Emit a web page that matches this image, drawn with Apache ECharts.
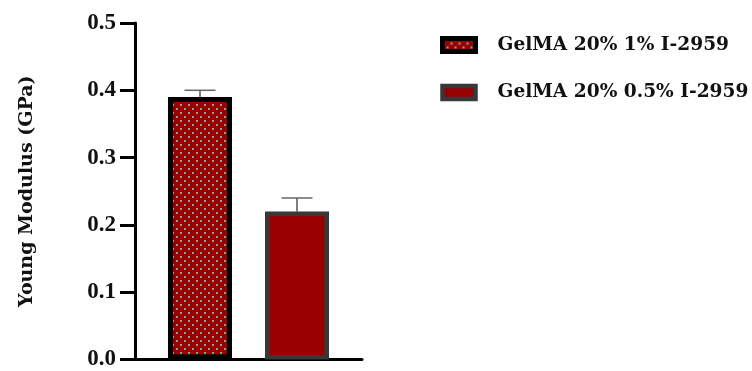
<!DOCTYPE html>
<html>
<head>
<meta charset="utf-8">
<script src="https://cdn.jsdelivr.net/npm/echarts@6/dist/echarts.min.js"></script>
<style>
  html, body { margin: 0; padding: 0; background: #fff; }
  #chart { width: 752px; height: 371px; }
</style>
</head>
<body>
<div id="chart"></div>
<script>
// Young's modulus of GelMA 20% hydrogels at two photoinitiator concentrations
const seriesNames = ['GelMA 20% 1% I-2959', 'GelMA 20% 0.5% I-2959'];
const means = [0.39, 0.22];        // GPa
const errors = [0.01, 0.02];       // upper error (GPa)
const yTicks = [0.0, 0.1, 0.2, 0.3, 0.4, 0.5];

const SERIF_NUM = '"Liberation Serif", serif';
const SERIF_TXT = '"DejaVu Serif", serif';
const BAR_W = 64;
const BAR_GAP = '51.6%';
const centerOffsets = [-48.5, 48.5];   // half of bar pitch, left / right bar

const chart = echarts.init(document.getElementById('chart'), null, { renderer: 'canvas' });

const dotDecal = {
  symbol: 'rect',
  symbolSize: 1,
  color: '#86a4a4',
  dashArrayX: [[1.5, 5.3], [0, 3.4, 1.5, 1.9]],
  dashArrayY: [1.5, 1.85]
};

const barStyles = [
  { color: '#990000', borderColor: '#000000', borderWidth: 5, decal: dotDecal },
  { color: '#990000', borderColor: '#383838', borderWidth: 4.5 }
];

const barSeries = seriesNames.map((name, i) => ({
  name: name,
  type: 'bar',
  barWidth: BAR_W,
  barGap: BAR_GAP,
  data: [means[i]],
  itemStyle: barStyles[i],
  emphasis: { disabled: true },
  z: 2
}));

const errorSeries = seriesNames.map((name, i) => ({
  type: 'custom',
  silent: true,
  z: 1,
  data: [[0, means[i], means[i] + errors[i]]],
  renderItem: function (params, api) {
    const base = api.coord([api.value(0), api.value(1)]);
    const top = api.coord([api.value(0), api.value(2)]);
    const x = base[0] + centerOffsets[i];
    const half = 15.5;
    return {
      type: 'group',
      children: [
        { type: 'line', shape: { x1: x, y1: base[1], x2: x, y2: top[1] },
          style: { stroke: '#555', lineWidth: 1.5 } },
        { type: 'line', shape: { x1: x - half, y1: top[1], x2: x + half, y2: top[1] },
          style: { stroke: '#666', lineWidth: 1.5 } }
      ]
    };
  }
}));

chart.setOption({
  animation: false,
  backgroundColor: '#ffffff',
  grid: { left: 135, right: 390, top: 23, bottom: 9, containLabel: false },
  legend: {
    left: 440,
    top: 35,
    padding: 0,
    orient: 'vertical',
    itemWidth: 33,
    itemHeight: 13,
    itemGap: 27.5,
    selectedMode: false,
    data: seriesNames.map((n, i) => ({ name: n, itemStyle: barStyles[i], icon: 'rect' })),
    textStyle: {
      fontFamily: SERIF_TXT, fontWeight: 'bold', fontSize: 18.6, lineHeight: 20, color: '#111',
      padding: [0, 0, 0, 17]
    }
  },
  xAxis: {
    type: 'category',
    data: [''],
    axisLine: { show: true, lineStyle: { color: '#000', width: 3 } },
    axisTick: { show: false },
    axisLabel: { show: false },
    splitLine: { show: false }
  },
  yAxis: {
    type: 'value',
    min: yTicks[0],
    max: yTicks[yTicks.length - 1],
    interval: 0.1,
    name: 'Young Modulus (GPa)',
    nameLocation: 'middle',
    nameRotate: 90,
    nameGap: 98,
    nameTextStyle: { fontFamily: SERIF_TXT, fontWeight: 'bold', fontSize: 19, color: '#111' },
    axisLine: { show: true, lineStyle: { color: '#000', width: 3 } },
    axisTick: { show: true, length: 15, lineStyle: { color: '#000', width: 3 } },
    axisLabel: {
      fontFamily: SERIF_NUM, fontWeight: 'bold', fontSize: 23, color: '#111', margin: 19,
      formatter: v => v.toFixed(1)
    },
    splitLine: { show: false }
  },
  series: barSeries.concat(errorSeries)
});
</script>
</body>
</html>
